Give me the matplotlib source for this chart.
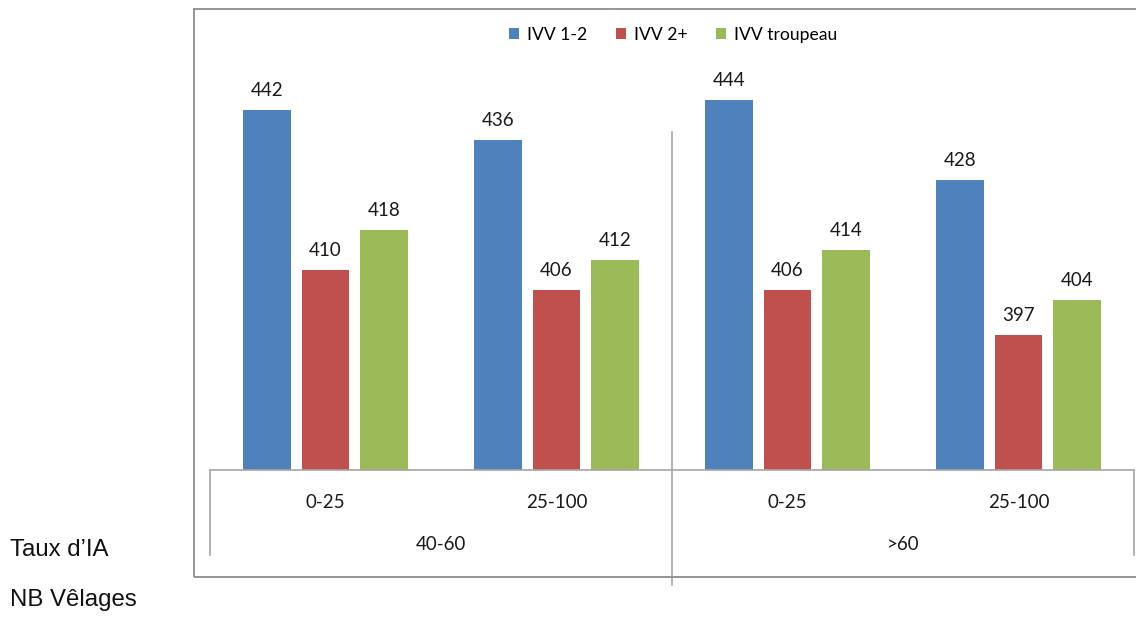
import numpy as np
import matplotlib
matplotlib.use("Agg")
import matplotlib.pyplot as plt
from matplotlib.patches import Rectangle

# Data
nb_velages = ["0-25", "25-100", "0-25", "25-100"]
taux_ia = ["40-60", ">60"]
series_names = ["IVV 1-2", "IVV 2+", "IVV troupeau"]
ivv_12 = [442, 436, 444, 428]
ivv_2plus = [410, 406, 406, 397]
ivv_troupeau = [418, 412, 414, 404]

colors = ["#4F81BD", "#C0504D", "#9BBB59"]
plt.rcParams["font.family"] = ["Lato", "DejaVu Sans"]

W, H = 1136, 619
fig = plt.figure(figsize=(W / 100, H / 100), dpi=100)
# plot area: x 210..1134 px, baseline at y=470, top at y=70
ax = fig.add_axes([210 / W, 1 - 470 / H, (1134 - 210) / W, 400 / H])

x = np.arange(len(nb_velages))
width = 0.204
offset = 0.253
for i, (vals, name) in enumerate(zip([ivv_12, ivv_2plus, ivv_troupeau], series_names)):
    bars = ax.bar(x + (i - 1) * offset, vals, width, color=colors[i], label=name)
    for b, v in zip(bars, vals):
        ax.annotate(str(v), (b.get_x() + b.get_width() / 2, v), xytext=(0, 8),
                    textcoords="offset points", ha="center", va="bottom",
                    fontsize=13.5, color="#1a1a1a")

ax.set_xlim(-0.5, 3.5)
ax.set_ylim(370, 450)
for s in ["left", "right", "top"]:
    ax.spines[s].set_visible(False)
ax.spines["bottom"].set_color("#a6a6a6")
ax.spines["bottom"].set_linewidth(1.2)
ax.set_xticks([])
ax.set_yticks([])

# multi-level category axis
tr = ax.get_xaxis_transform()
for xi, lab in zip(x, nb_velages):
    ax.text(xi, -0.08, lab, transform=tr, ha="center", va="center",
            fontsize=13.5, color="#1a1a1a")
for gi, lab in enumerate(taux_ia):
    ax.text(0.5 + 2 * gi, -0.185, lab, transform=tr, ha="center", va="center",
            fontsize=13.5, color="#1a1a1a")
for xs in [-0.5, 3.5]:
    ax.plot([xs, xs], [0, -0.2125], transform=tr, color="#a6a6a6", lw=1.2, clip_on=False)
ax.plot([1.5, 1.5], [0.845, -0.2875], transform=tr, color="#a6a6a6", lw=1.2, clip_on=False)

# outer chart frame
fig.patches.append(Rectangle((194 / W, 1 - 577 / H), (W + 10 - 194) / W, (577 - 9) / H,
                             transform=fig.transFigure, fill=False,
                             edgecolor="#8c8c8c", lw=1.3))

fig.legend(loc="center", bbox_to_anchor=(673 / W, 1 - 35 / H), ncol=3, frameon=False,
           fontsize=12.6, handlelength=0.6, handleheight=0.6, handletextpad=0.45,
           columnspacing=1.6)

fig.text(10 / W, 1 - 550 / H, "Taux d\u2019IA", fontsize=17.3, va="center", ha="left",
         family=["Liberation Sans", "DejaVu Sans"], color="#111111")
fig.text(10 / W, 1 - 600 / H, "NB V\u00ealages", fontsize=17.3, va="center", ha="left",
         family=["Liberation Sans", "DejaVu Sans"], color="#111111")

fig.savefig("out.png", dpi=100)
